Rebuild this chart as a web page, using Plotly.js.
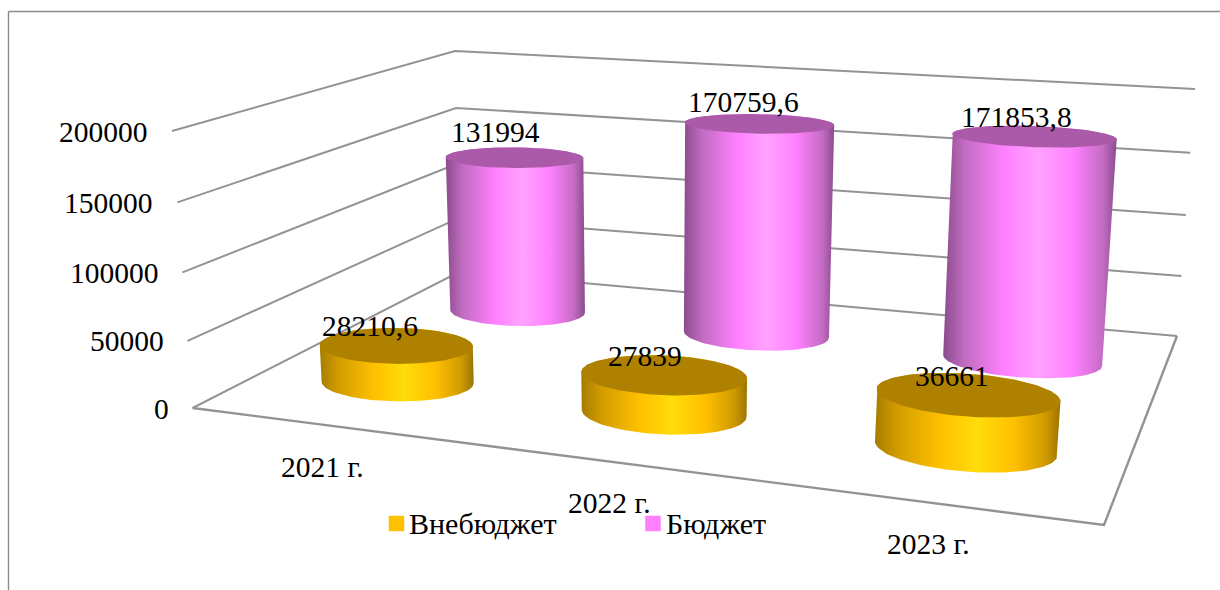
<!DOCTYPE html>
<html><head><meta charset="utf-8">
<script src="https://cdn.plot.ly/plotly-3.0.1.min.js"></script>
<style>html,body{margin:0;padding:0;background:#fff}#c{width:1220px;height:590px}</style></head>
<body><div id="c"></div>
<script>
const categories = ['2021 г.', '2022 г.', '2023 г.'];
const offBudget = [28210.6, 27839, 36661];
const budget = [131994, 170759.6, 171853.8];
const offBudgetLabels = ['28210,6', '27839', '36661'];
const budgetLabels = ['131994', '170759,6', '171853,8'];
const valueTicks = [0, 50000, 100000, 150000, 200000];
const seriesNames = ['Внебюджет', 'Бюджет'];
const axisMax = 200000;

// Camera of the 3-D box: floor corners and top corners as seen in the picture
const floorQuad = [[192.6,408],[1104,525],[1177,336],[459,272]];
const topRefs = [[0,0,172,131],[0,1,455,51],[1,1,1195,89]];
const rU = 0.28, rW = 0.215, uShift = 0.013;

function homography(q){
  const [x0,y0]=q[0],[x1,y1]=q[1],[x2,y2]=q[2],[x3,y3]=q[3];
  const dx1=x1-x2,dx2=x3-x2,sx=x0-x1+x2-x3,dy1=y1-y2,dy2=y3-y2,sy=y0-y1+y2-y3;
  const den=dx1*dy2-dx2*dy1,g=(sx*dy2-dx2*sy)/den,h=(dx1*sy-sx*dy1)/den;
  return [x1-x0+g*x1,x3-x0+h*x3,x0,y1-y0+g*y1,y3-y0+h*y3,y0,g,h,1];
}
const H=homography(floorQuad);
function base(s,t){return [H[0]*s+H[1]*t+H[2],H[3]*s+H[4]*t+H[5],H[6]*s+H[7]*t+H[8]];}
function det3(m){return m[0][0]*(m[1][1]*m[2][2]-m[1][2]*m[2][1])-m[0][1]*(m[1][0]*m[2][2]-m[1][2]*m[2][0])+m[0][2]*(m[1][0]*m[2][1]-m[1][1]*m[2][0]);}
function solveTop(){
  const rows=[];
  topRefs.forEach(([s,t,x,y])=>{const [X,Y,W]=base(s,t);
    rows.push([1,0,-x,x*W-X]);rows.push([0,1,-y,y*W-Y]);});
  const A=[[0,0,0],[0,0,0],[0,0,0]],b=[0,0,0];
  rows.forEach(r=>{for(let i=0;i<3;i++){b[i]+=r[i]*r[3];for(let j=0;j<3;j++)A[i][j]+=r[i]*r[j];}});
  const d=det3(A);
  return [0,1,2].map(k=>det3(A.map((row,i)=>row.map((v,j)=>j===k?b[i]:v)))/d);
}
const P=solveTop();
function proj(u,w,v){const [X,Y,W]=base(u/3,w/2),z=v/axisMax;
  const d=W+z*P[2];return [(X+z*P[0])/d,(Y+z*P[1])/d];}

// wall corner at value v: from floor corner to the measured top corner
const warp=0.96;
function wall(k,v){const z=v/axisMax,f=z*warp/(1+z*(warp-1));
  const a=floorQuad[[0,3,2][k]],b=topRefs[k];
  return [a[0]+(b[2]-a[0])*f,a[1]+(b[3]-a[1])*f];}

function ring(u,w,v){const pts=[];for(let i=0;i<120;i++){const a=i/120*2*Math.PI;
  pts.push(proj(u+rU*Math.cos(a),w+rW*Math.sin(a),v));}return pts;}
function hull(pts){const p=pts.slice().sort((a,b)=>a[0]-b[0]||a[1]-b[1]);
  const cr=(o,a,b)=>(a[0]-o[0])*(b[1]-o[1])-(a[1]-o[1])*(b[0]-o[0]);const lo=[],up=[];
  for(const q of p){while(lo.length>1&&cr(lo[lo.length-2],lo[lo.length-1],q)<=0)lo.pop();lo.push(q);}
  for(const q of p.slice().reverse()){while(up.length>1&&cr(up[up.length-2],up[up.length-1],q)<=0)up.pop();up.push(q);}
  return lo.slice(0,-1).concat(up.slice(0,-1));}
const close=p=>p.concat([p[0]]);

const traces=[];
const gridColor='#939393';
valueTicks.forEach(v=>{const pts=[wall(0,v),wall(1,v),wall(2,v)];
  traces.push({type:'scatter',mode:'lines',x:pts.map(p=>p[0]),y:pts.map(p=>p[1]),line:{color:gridColor,width:2},showlegend:false,hoverinfo:'skip'});});
{const pts=[floorQuad[0],floorQuad[1],floorQuad[2]];
  traces.push({type:'scatter',mode:'lines',x:pts.map(p=>p[0]),y:pts.map(p=>p[1]),line:{color:gridColor,width:2.4},showlegend:false,hoverinfo:'skip'});}

const purple={top:'#ab59a9',scale:[[0,'#8a4c8c'],[0.12,'#c06cc0'],[0.35,'#ff80ff'],[0.55,'#ffa2ff'],[0.75,'#ff80ff'],[0.92,'#c46cc4'],[1,'#8a4c8c']]};
const gold={top:'#ae8200',scale:[[0,'#a67c00'],[0.12,'#d29c00'],[0.35,'#ffc000'],[0.55,'#ffdc0a'],[0.75,'#ffc000'],[0.92,'#cf9a00'],[1,'#9c7400']]};
function cylinder(u,w,v,style){
  const body=close(hull(ring(u,w,0).concat(ring(u,w,v))));
  traces.push({type:'scatter',mode:'lines',x:body.map(p=>p[0]),y:body.map(p=>p[1]),fill:'toself',
    line:{width:0,color:'rgba(0,0,0,0)'},fillcolor:style.scale[3][1],
    fillgradient:{type:'horizontal',colorscale:style.scale},showlegend:false,hoverinfo:'skip'});
  const top=close(ring(u,w,v));
  traces.push({type:'scatter',mode:'lines',x:top.map(p=>p[0]),y:top.map(p=>p[1]),fill:'toself',
    line:{width:0,color:'rgba(0,0,0,0)'},fillcolor:style.top,showlegend:false,hoverinfo:'skip'});
}
budget.forEach((v,i)=>cylinder(i+.5+uShift,1.5,v,purple));
offBudget.forEach((v,i)=>cylinder(i+.5+uShift,.5,v,gold));

const font={family:'"Liberation Serif",serif',size:29.5,color:'#000'};
const ann=[];
function label(x,y,text,anchor,f){ann.push({xref:'x',yref:'y',x,y,text,showarrow:false,xanchor:anchor||'center',yanchor:'middle',font:f||font});}
valueTicks.forEach(v=>{const p=wall(0,v);label(p[0]-22,p[1]+0.5,String(v),'right');});
const catOff=[[2,43],[7,42],[4,42]];
categories.forEach((c,i)=>{const p=proj(i+.5,0,0);label(p[0]+catOff[i][0],p[1]+catOff[i][1],c);});
const budOff=[[-19,-25],[-15,-22],[-17,-19]], goldOff=[[-26,-19],[-19,-19],[-15,-18]];
budget.forEach((v,i)=>{const p=proj(i+.5+uShift,1.5,v);label(p[0]+budOff[i][0],p[1]+budOff[i][1],budgetLabels[i]);});
offBudget.forEach((v,i)=>{const p=proj(i+.5+uShift,.5,v);label(p[0]+goldOff[i][0],p[1]+goldOff[i][1],offBudgetLabels[i]);});

// legend
const legendX=[396.5,653], legendY=523.5, legendColors=['#ffc000','#ff80ff'];
seriesNames.forEach((n,i)=>{
  traces.push({type:'scatter',mode:'markers',x:[legendX[i]],y:[legendY],name:n,marker:{symbol:'square',size:15.5,color:legendColors[i],line:{width:0}},showlegend:false,hoverinfo:'skip'});
  label(legendX[i]+10.5,legendY-0.5,n,'left',Object.assign({},font,{size:30}));
});

const layout={width:1220,height:590,margin:{l:0,r:0,t:0,b:0},paper_bgcolor:'#fff',plot_bgcolor:'#fff',
  xaxis:{range:[0,1220],visible:false,fixedrange:true},
  yaxis:{range:[590,0],visible:false,fixedrange:true},
  showlegend:false,
  annotations:ann,
  shapes:[{type:'line',xref:'paper',yref:'paper',x0:8.5/1220,x1:1,y0:1-11.5/590,y1:1-11.5/590,line:{color:'#8c8c8c',width:1.4}},
          {type:'line',xref:'paper',yref:'paper',x0:8.5/1220,x1:8.5/1220,y0:0,y1:1-11.5/590,line:{color:'#8c8c8c',width:1.4}}]};
Plotly.newPlot('c',traces,layout,{staticPlot:true,displayModeBar:false});
</script></body></html>
